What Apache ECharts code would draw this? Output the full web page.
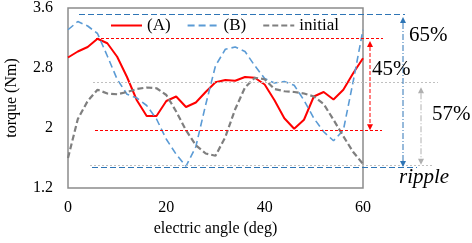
<!DOCTYPE html>
<html>
<head>
<meta charset="utf-8">
<script src="https://cdn.jsdelivr.net/npm/echarts@6/dist/echarts.min.js"></script>
<style>
  html, body { margin: 0; padding: 0; background: #fff; }
  #chart { width: 472px; height: 243px; }
</style>
</head>
<body>
<div id="chart"></div>
<script>
// electric angle (deg), every 2 deg
const angles = [0, 2, 4, 6, 8, 10, 12, 14, 16, 18, 20, 22, 24, 26, 28, 30,
  32, 34, 36, 38, 40, 42, 44, 46, 48, 50, 52, 54, 56, 58, 60]
const torqueA = [2.94, 3.02, 3.08, 3.19, 3.13, 2.95, 2.68, 2.37, 2.16, 2.16, 2.36, 2.42, 2.28, 2.34, 2.48, 2.61,
  2.64, 2.63, 2.68, 2.67, 2.58, 2.37, 2.13, 1.99, 2.11, 2.42, 2.48, 2.38, 2.51, 2.73, 2.93]
const torqueB = [3.31, 3.42, 3.36, 3.26, 2.96, 2.65, 2.45, 2.40, 2.30, 2.12, 1.85, 1.65, 1.49, 1.75, 2.31, 2.83,
  3.05, 3.08, 3.02, 2.83, 2.66, 2.60, 2.62, 2.57, 2.37, 2.13, 1.95, 1.83, 1.97, 2.62, 3.31]
const torqueInit = [1.60, 2.12, 2.36, 2.51, 2.46, 2.45, 2.48, 2.52, 2.54, 2.53, 2.44, 2.22, 1.97, 1.77, 1.66, 1.63,
  1.88, 2.25, 2.54, 2.67, 2.65, 2.52, 2.49, 2.48, 2.46, 2.42, 2.32, 2.11, 1.89, 1.68, 1.52]
const yTicks = [1.2, 2, 2.8, 3.6]

// ripple levels (max / min) for each curve and the ripple percentages
const levelA = [3.2, 1.97]
const levelB = [3.52, 1.48]
const levelInit = [2.61, 1.51]
const rippleText = ['45%', '65%', '57%']

const serif = '"Liberation Serif", "Times New Roman", serif'
const chart = echarts.init(document.getElementById('chart'))

const pairs = arr => angles.map((a, i) => [a, arr[i]])

chart.setOption({
  animation: false,
  grid: {
    left: 68, right: 109, top: 8, bottom: 55,
    containLabel: false, outerBoundsMode: 'none',
    show: true, borderColor: '#8c8c8c', borderWidth: 1.5
  },
  legend: {
    left: 105, top: 12,
    itemWidth: 31, itemHeight: 12, itemGap: 16,
    itemStyle: { color: 'transparent', borderWidth: 0 },
    textStyle: { fontFamily: serif, fontSize: 17, color: '#000' },
    data: ['(A)', '(B)', 'initial']
  },
  xAxis: {
    type: 'value', min: 0, max: 60, interval: 20,
    name: 'electric angle (deg)', nameLocation: 'middle', nameGap: 31,
    nameTextStyle: { fontFamily: serif, fontSize: 16, color: '#000' },
    axisLine: { show: false }, axisTick: { show: false }, splitLine: { show: false },
    axisLabel: { fontFamily: serif, fontSize: 16, color: '#000', margin: 12 }
  },
  yAxis: {
    type: 'value', min: yTicks[0], max: yTicks[yTicks.length - 1], interval: 0.8,
    name: 'torque (Nm)', nameLocation: 'middle', nameGap: 48,
    nameTextStyle: { fontFamily: serif, fontSize: 16, color: '#000' },
    axisLine: { show: false }, axisTick: { show: false }, splitLine: { show: false },
    axisLabel: {
      fontFamily: serif, fontSize: 16, color: '#000', margin: 15,
      formatter: v => String(Math.round(v * 10) / 10)
    }
  },
  series: [
    {
      name: '(A)', type: 'line', data: pairs(torqueA), symbol: 'none',
      lineStyle: { color: '#ff0000', width: 2 }, itemStyle: { color: '#ff0000' }
    },
    {
      name: '(B)', type: 'line', data: pairs(torqueB), symbol: 'none',
      lineStyle: { color: '#5b9bd5', width: 1.6, type: [7, 4] }, itemStyle: { color: '#5b9bd5' }
    },
    {
      name: 'initial', type: 'line', data: pairs(torqueInit), symbol: 'none',
      lineStyle: { color: '#7f7f7f', width: 2.2, type: [6, 3] }, itemStyle: { color: '#7f7f7f' }
    }
  ]
})

// annotations: horizontal level lines + double arrows, y from the axis scale
const py = v => chart.convertToPixel({ yAxisIndex: 0 }, v)

function hLine (x1, x2, v, color, dash, w) {
  const y = Math.round(py(v)) + 0.5
  return {
    type: 'line', silent: true, z: 5,
    shape: { x1: x1, y1: y, x2: x2, y2: y },
    style: { stroke: color, lineWidth: w || 1, lineDash: dash }
  }
}

function vArrow (x, v1, v2, color, dash, inset) {
  const y1 = py(v1) + (inset || 0)
  const y2 = py(v2)
  const h = 6
  const s = 3
  return [
    {
      type: 'line', silent: true, z: 5,
      shape: { x1: x, y1: y1 + h, x2: x, y2: y2 - h },
      style: { stroke: color, lineWidth: 1, lineDash: dash }
    },
    {
      type: 'polygon', silent: true, z: 5,
      shape: { points: [[x, y1], [x - s, y1 + h], [x + s, y1 + h]] },
      style: { fill: color }
    },
    {
      type: 'polygon', silent: true, z: 5,
      shape: { points: [[x, y2], [x - s, y2 - h], [x + s, y2 - h]] },
      style: { fill: color }
    }
  ]
}

function label (x, y, text, italic) {
  return {
    type: 'text', silent: true, z: 6, x: x, y: y,
    style: {
      text: text, fill: '#000', font: (italic ? 'italic ' : '') + '21px ' + serif,
      verticalAlign: 'middle'
    }
  }
}

const red = '#ff0000'
const blue = '#2e75b6'
const gray = '#b0b0b0'

const graphics = [
  hLine(79, 405, levelB[0], blue, [6, 3]),
  hLine(96, 383, levelA[0], red, [3, 2]),
  hLine(93, 438, levelInit[0], '#c0c0c0', [2, 2]),
  hLine(95, 382, levelA[1], red, [3, 2]),
  hLine(90, 433, levelInit[1], '#c0c0c0', [2, 2]),
  hLine(92, 417, levelB[1], blue, [6, 3])
]
  .concat(vArrow(370, levelA[0], levelA[1], red, [4, 2], 3))
  .concat(vArrow(403, levelB[0], levelB[1], blue, [6, 2, 1, 2], 3))
  .concat(vArrow(421, levelInit[0], levelInit[1], gray, [6, 2, 1, 2], 5))
  .concat([
    label(409, 35, rippleText[1]),
    label(372, 69, rippleText[0]),
    label(432, 114, rippleText[2]),
    label(399, 177, 'ripple', true)
  ])

chart.setOption({ graphic: graphics })
</script>
</body>
</html>
